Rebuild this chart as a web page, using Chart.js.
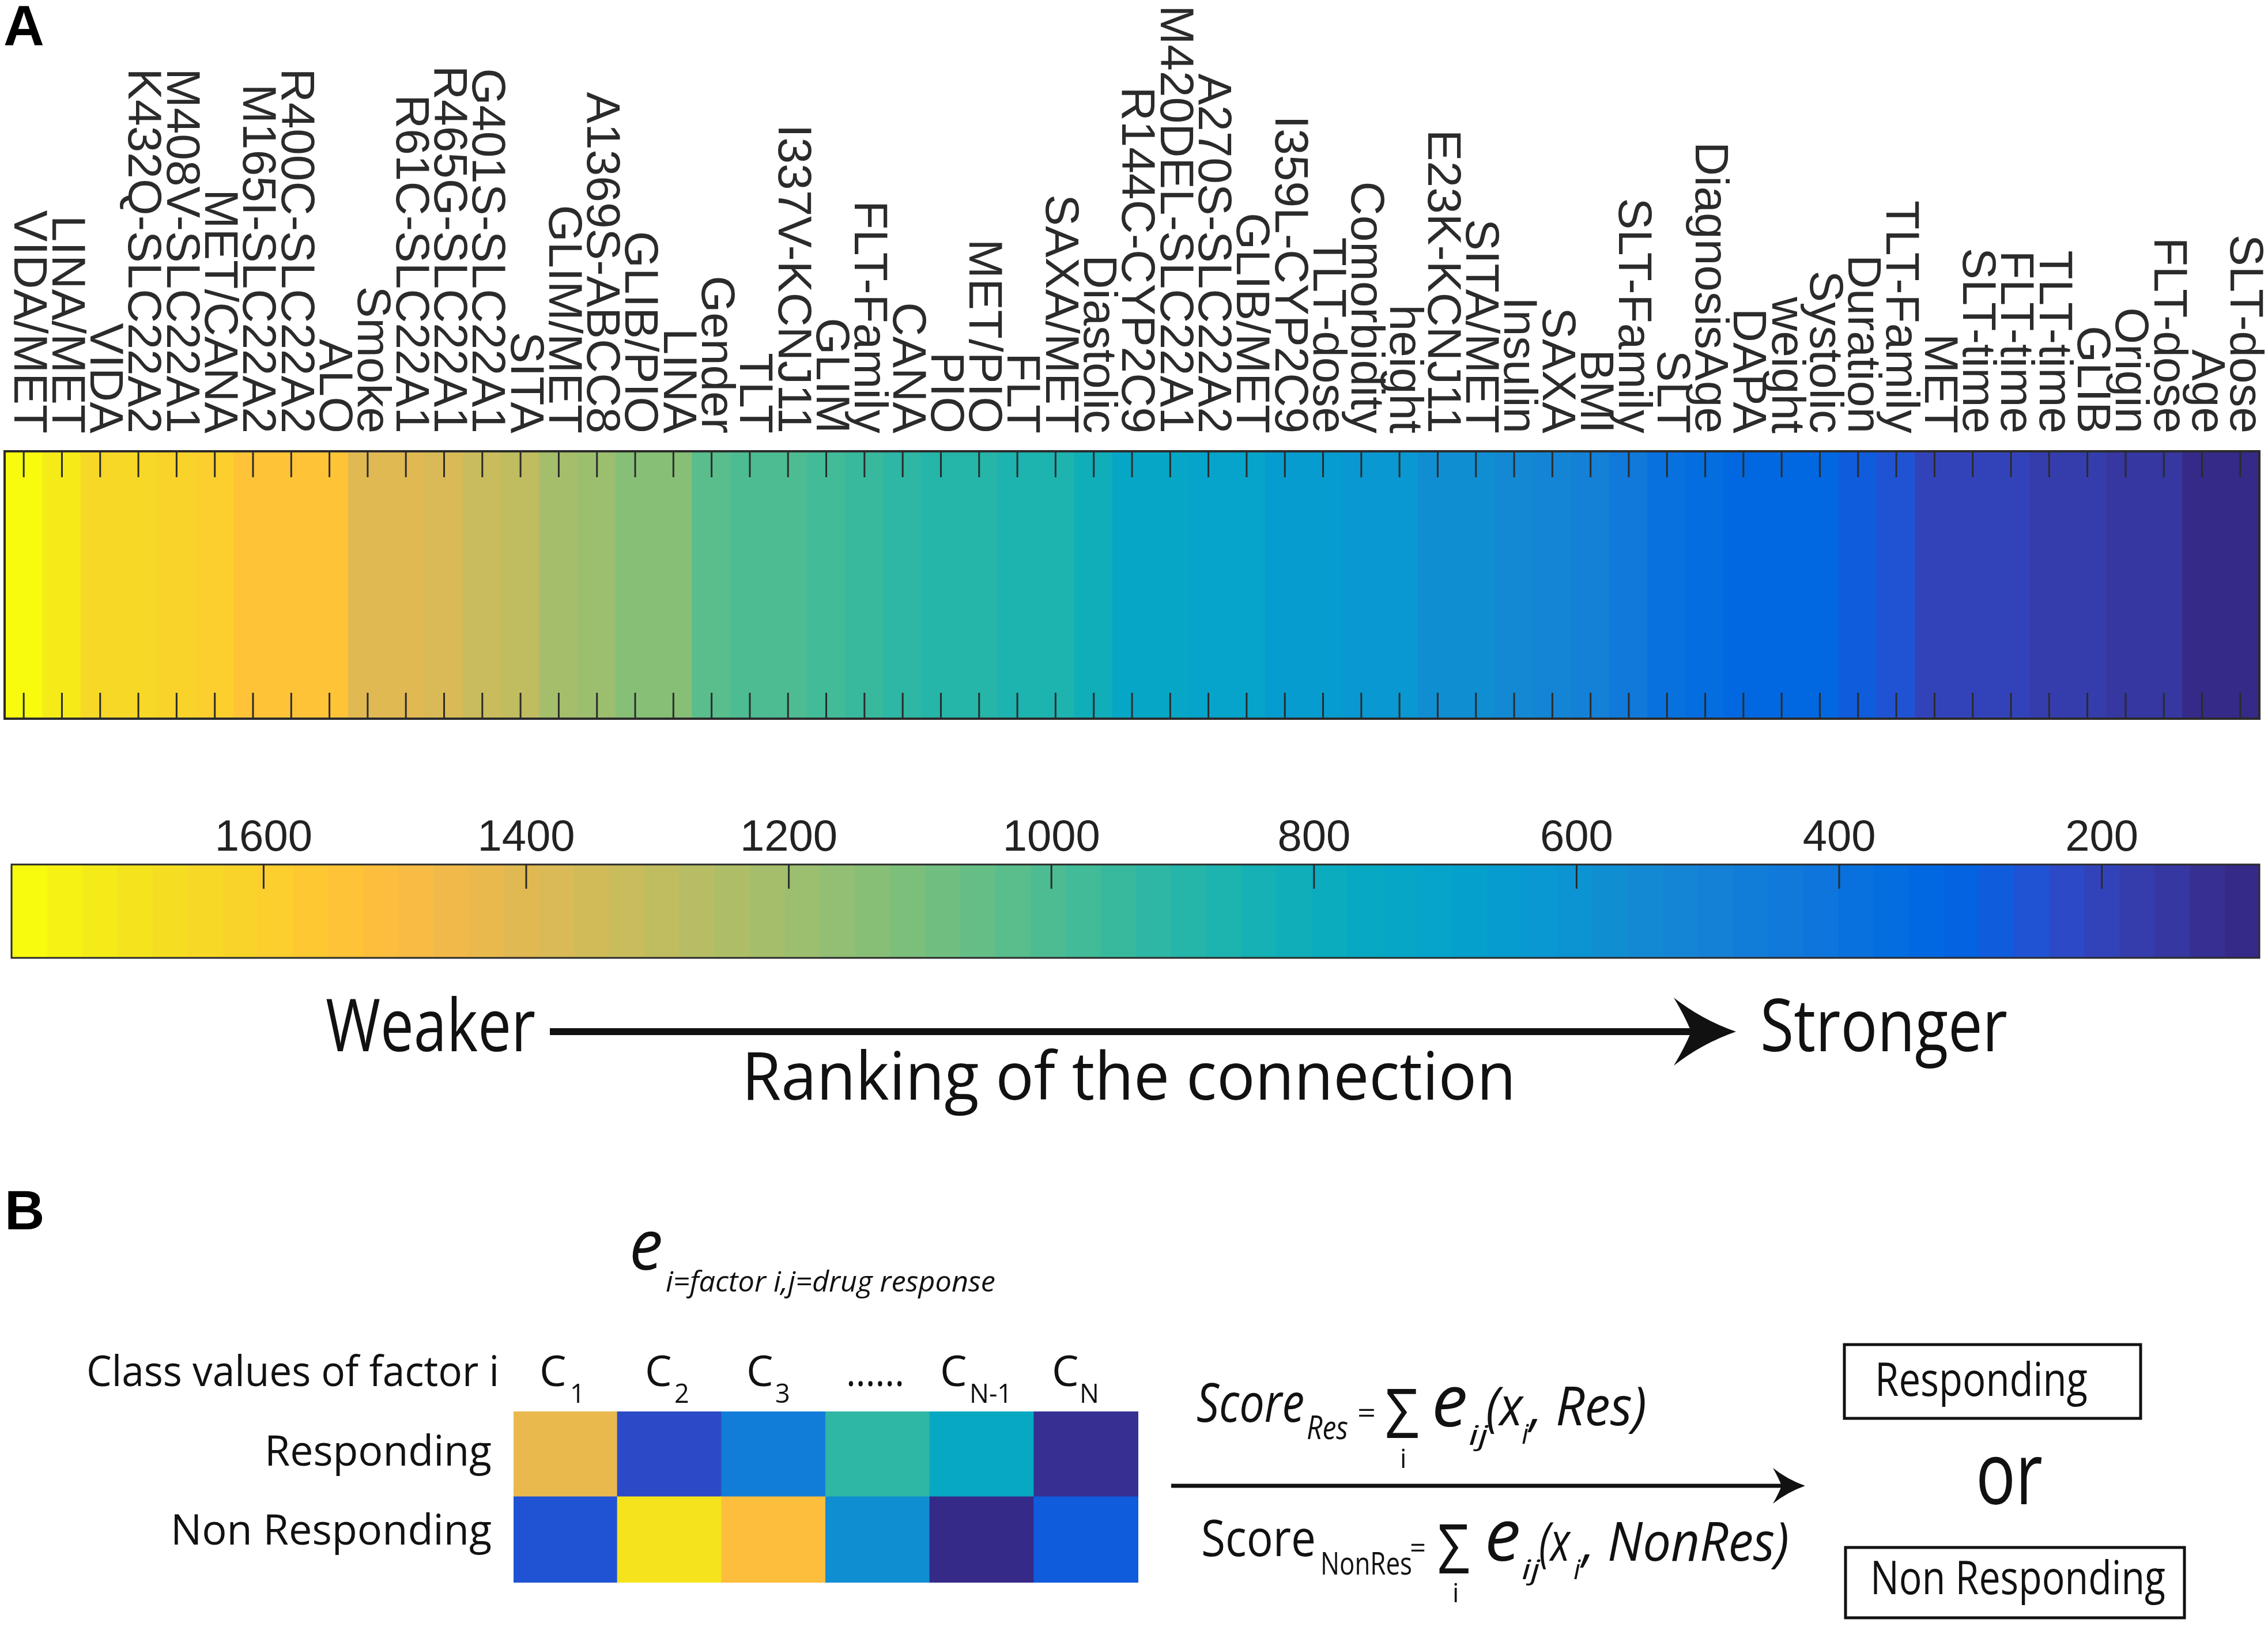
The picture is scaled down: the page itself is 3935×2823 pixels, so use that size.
<!DOCTYPE html>
<html><head><meta charset="utf-8">
<script src="https://cdn.jsdelivr.net/npm/chart.js@4.4.1/dist/chart.umd.min.js"></script>
<style>
html,body{margin:0;padding:0;background:#fff;}
#wrap{position:relative;width:3935px;height:2823px;overflow:hidden;background:#fff;}
canvas{position:absolute;left:0;top:0;}
</style></head><body>
<div id="wrap">
<canvas id="bar" width="3935" height="2823"></canvas>
<canvas id="cbar" width="3935" height="2823"></canvas>
<canvas id="mat" width="3935" height="2823"></canvas>
</div>
<script>
// ---------------- DATA ----------------
const factors = ['VIDA/MET','LINA/MET','VIDA','K432Q-SLC22A2','M408V-SLC22A1','MET/CANA','M165I-SLC22A2','R400C-SLC22A2','ALO','Smoke',
 'R61C-SLC22A1','R465G-SLC22A1','G401S-SLC22A1','SITA','GLIM/MET','A1369S-ABCC8','GLIB/PIO','LINA','Gender','TLT',
 'I337V-KCNJ11','GLIM','FLT-Family','CANA','PIO','MET/PIO','FLT','SAXA/MET','Diastolic','R144C-CYP2C9',
 'M420DEL-SLC22A1','A270S-SLC22A2','GLIB/MET','I359L-CYP2C9','TLT-dose','Comorbidity','height','E23K-KCNJ11','SITA/MET','Insulin',
 'SAXA','BMI','SLT-Family','SLT','DiagnosisAge','DAPA','weight','Systolic','Duration','TLT-Family',
 'MET','SLT-time','FLT-time','TLT-time','GLIB','Origin','FLT-dose','Age','SLT-dose'];
const rankValues = [1776,1722,1642,1642,1615,1588,1535,1535,1535,1401,
 1401,1374,1321,1294,1214,1187,1133,1133,1026,999,
 999,973,946,919,892,892,865,865,812,731,
 731,705,705,651,651,624,624,571,571,544,
 517,490,437,383,356,330,330,330,276,250,
 196,196,196,169,169,143,143,89,89];
const colorbarTicks = [1600,1400,1200,1000,800,600,400,200];
const colorbarRange = [80, 1792];
const classLabels = ['C1','C2','C3','......','CN-1','CN'];
const eResponding    = [0.79, 0.08, 0.22, 0.49, 0.40, 0.02];
const eNonResponding = [0.10, 0.95, 0.84, 0.29, 0.00, 0.11];

// ---------------- COLORMAP (parula, 64) ----------------
const PARULA = [
[0.2081,0.1663,0.5292],[0.2116,0.1898,0.5777],[0.2123,0.2138,0.6270],[0.2081,0.2386,0.6771],
[0.1959,0.2645,0.7279],[0.1707,0.2919,0.7792],[0.1253,0.3242,0.8303],[0.0591,0.3598,0.8683],
[0.0117,0.3875,0.8820],[0.0060,0.4086,0.8828],[0.0165,0.4266,0.8786],[0.0329,0.4430,0.8720],
[0.0498,0.4586,0.8641],[0.0629,0.4737,0.8554],[0.0723,0.4887,0.8467],[0.0779,0.5040,0.8384],
[0.0793,0.5200,0.8312],[0.0749,0.5375,0.8263],[0.0641,0.5570,0.8240],[0.0488,0.5772,0.8228],
[0.0343,0.5966,0.8199],[0.0265,0.6137,0.8135],[0.0239,0.6287,0.8038],[0.0231,0.6418,0.7913],
[0.0228,0.6535,0.7768],[0.0267,0.6642,0.7607],[0.0384,0.6743,0.7436],[0.0590,0.6838,0.7254],
[0.0843,0.6928,0.7062],[0.1133,0.7015,0.6859],[0.1453,0.7098,0.6646],[0.1801,0.7177,0.6424],
[0.2178,0.7250,0.6193],[0.2586,0.7317,0.5954],[0.3022,0.7376,0.5712],[0.3482,0.7424,0.5473],
[0.3953,0.7459,0.5244],[0.4420,0.7481,0.5033],[0.4871,0.7491,0.4840],[0.5300,0.7491,0.4661],
[0.5709,0.7485,0.4494],[0.6099,0.7473,0.4337],[0.6473,0.7456,0.4188],[0.6834,0.7435,0.4044],
[0.7184,0.7411,0.3905],[0.7525,0.7384,0.3768],[0.7858,0.7356,0.3633],[0.8185,0.7327,0.3498],
[0.8507,0.7299,0.3360],[0.8824,0.7274,0.3217],[0.9139,0.7258,0.3063],[0.9450,0.7261,0.2886],
[0.9739,0.7314,0.2666],[0.9938,0.7455,0.2403],[0.9990,0.7653,0.2164],[0.9955,0.7861,0.1967],
[0.9880,0.8066,0.1794],[0.9789,0.8271,0.1633],[0.9697,0.8481,0.1475],[0.9626,0.8705,0.1309],
[0.9589,0.8949,0.1132],[0.9598,0.9218,0.0948],[0.9661,0.9514,0.0755],[0.9763,0.9831,0.0538]];
const rgb = c => `rgb(${Math.round(c[0]*255)},${Math.round(c[1]*255)},${Math.round(c[2]*255)})`;
const N = PARULA.length;
function valueColor(v){
  const t = (v - colorbarRange[0]) / (colorbarRange[1] - colorbarRange[0]);
  return rgb(PARULA[Math.max(0, Math.min(N-1, Math.floor(t*N)))]);
}
function eColor(e){ return rgb(PARULA[Math.max(0, Math.min(N-1, Math.round(e*(N-1))))]); }

const HELV = "'Liberation Sans', Arial, Helvetica, sans-serif";
const MYR = "'Open Sans', 'Noto Sans', sans-serif";
const AXC = '#2b2b2b';
Chart.defaults.font.family = HELV;
const W = 3935, H = 2823;
const common = {
  responsive:false, animation:false, devicePixelRatio:1,
  plugins:{legend:{display:false}, tooltip:{enabled:false}}, events:[]
};

// ---------------- TOP STRIP ----------------
const stripPlugin = {
  id:'strip',
  afterDraw(chart){
    const {ctx, chartArea:a, scales:{x}} = chart;
    ctx.save();
    ctx.strokeStyle = AXC; ctx.lineWidth = 3;
    factors.forEach((f, i) => {
      const px = x.getPixelForValue(i);
      ctx.beginPath();
      ctx.moveTo(px, a.top); ctx.lineTo(px, a.top + 45);
      ctx.moveTo(px, a.bottom); ctx.lineTo(px, a.bottom - 45);
      ctx.stroke();
    });
    ctx.lineWidth = 4;
    ctx.strokeRect(a.left, a.top, a.right - a.left, a.bottom - a.top);
    ctx.fillStyle = AXC;
    ctx.font = `82px ${HELV}`;
    ctx.textAlign = 'right'; ctx.textBaseline = 'middle';
    factors.forEach((f, i) => {
      const px = x.getPixelForValue(i);
      ctx.save();
      ctx.translate(px + 6, a.top - 31);
      ctx.rotate(Math.PI/2);
      ctx.fillText(f, 0, 0);
      ctx.restore();
    });
    ctx.restore();
  }
};
new Chart(document.getElementById('bar'), {
  type:'bar',
  data:{ labels:factors, datasets:[{
    data: rankValues.map(() => [0, 1]),
    backgroundColor: rankValues.map(valueColor),
    borderWidth:0, barPercentage:1, categoryPercentage:1, inflateAmount:1
  }]},
  options:{ ...common,
    layout:{padding:{left:8, right:W-3920, top:783, bottom:H-1247}},
    scales:{ x:{type:'category', display:false}, y:{display:false, min:0, max:1} }
  },
  plugins:[stripPlugin]
});

// ---------------- COLORBAR ----------------
const bands = PARULA.map((c, i) => {
  const step = (colorbarRange[1] - colorbarRange[0]) / N;
  return {lo: colorbarRange[0] + i*step, hi: colorbarRange[0] + (i+1)*step, color: rgb(c)};
});
const cbPlugin = {
  id:'cb',
  afterDraw(chart){
    const {ctx, chartArea:a, scales:{x}} = chart;
    ctx.save();
    ctx.strokeStyle = AXC; ctx.lineWidth = 3;
    ctx.strokeRect(a.left, a.top, a.right - a.left, a.bottom - a.top);
    ctx.fillStyle = '#222';
    ctx.font = `76px ${HELV}`;
    ctx.textAlign = 'center'; ctx.textBaseline = 'alphabetic';
    colorbarTicks.forEach(v => {
      const px = x.getPixelForValue(v);
      ctx.beginPath(); ctx.moveTo(px, a.top); ctx.lineTo(px, a.top + 42); ctx.stroke();
      ctx.fillText(String(v), px, a.top - 24);
    });
    ctx.restore();
  }
};
new Chart(document.getElementById('cbar'), {
  type:'bar',
  data:{ labels:['cb'], datasets:[{
    data: bands.map(b => ({y:'cb', x:[b.lo, b.hi]})),
    backgroundColor: bands.map(b => b.color),
    borderWidth:0, barPercentage:1, categoryPercentage:1, inflateAmount:1, grouped:false
  }]},
  options:{ ...common, indexAxis:'y',
    layout:{padding:{left:20, right:W-3920, top:1500, bottom:H-1662}},
    scales:{ x:{type:'linear', reverse:true, min:colorbarRange[0], max:colorbarRange[1], display:false},
             y:{type:'category', display:false} }
  },
  plugins:[cbPlugin]
});

// ---------------- ANNOTATIONS ----------------
function txt(ctx, s, x, base, size, o = {}){
  ctx.save();
  ctx.font = `${o.italic ? 'italic ' : ''}${o.bold ? 'bold ' : ''}${size}px ${o.family || MYR}`;
  ctx.fillStyle = o.color || '#111';
  ctx.textAlign = 'left'; ctx.textBaseline = 'alphabetic';
  const w = ctx.measureText(s).width;
  const tw = o.width || w;
  const sx = tw / w;
  const left = o.align === 'right' ? x - tw : x;
  ctx.translate(left, base);
  ctx.scale(sx, 1);
  ctx.fillText(s, 0, 0);
  ctx.restore();
}
function arrow(ctx, x0, tip, y, lw, hl, hh, notch){
  ctx.save();
  ctx.fillStyle = '#111';
  ctx.fillRect(x0, y - lw/2, (tip - hl + notch + 2) - x0, lw);
  ctx.beginPath();
  ctx.moveTo(tip, y);
  ctx.quadraticCurveTo(tip - hl*0.55, y - hh*0.35, tip - hl, y - hh);
  ctx.quadraticCurveTo(tip - hl + notch*0.7, y - hh*0.4, tip - hl + notch, y);
  ctx.quadraticCurveTo(tip - hl + notch*0.7, y + hh*0.4, tip - hl, y + hh);
  ctx.quadraticCurveTo(tip - hl*0.55, y + hh*0.35, tip, y);
  ctx.closePath(); ctx.fill();
  ctx.restore();
}
const notePlugin = {
  id:'notes',
  afterDraw(chart){
    const ctx = chart.ctx;
    // panel letters
    txt(ctx, 'A', 6, 78, 98, {bold:true, family:HELV, color:'#000'});
    txt(ctx, 'B', 8, 2133, 96, {bold:true, family:HELV, color:'#000'});
    // ranking arrow
    txt(ctx, 'Weaker', 565, 1824, 126, {width:364});
    arrow(ctx, 954, 3012, 1790, 12, 108, 59, 30);
    txt(ctx, 'Stronger', 3054, 1824, 126, {width:429});
    txt(ctx, 'Ranking of the connection', 1287, 1908, 116, {width:1343});
    // e_{i=factor i, j=drug response}
    txt(ctx, 'e', 1092, 2203, 121, {italic:true, width:58});
    txt(ctx, 'i=factor i,j=drug response', 1155, 2241, 50, {italic:true, width:572});
    // class header
    txt(ctx, 'Class values of factor i', 150, 2405, 74, {width:716});
    const cPos = [[936,989],[1119,1170],[1295,1345],null,[1631,1682],[1825,1873]];
    classLabels.forEach((lab, i) => {
      if (!cPos[i]) { txt(ctx, lab, 1468, 2405, 74, {width:101}); return; }
      txt(ctx, 'C', cPos[i][0], 2405, 74);
      txt(ctx, lab.slice(1), cPos[i][1], 2434, 45);
    });
    txt(ctx, 'Responding', 853, 2543, 74, {align:'right', width:394});
    txt(ctx, 'Non Responding', 853, 2680, 74, {align:'right', width:557});
    // formula 1
    txt(ctx, 'Score', 2076, 2467, 94, {italic:true, width:187});
    txt(ctx, 'Res', 2267, 2497, 56, {italic:true, width:72});
    txt(ctx, '=', 2355, 2469, 50, {width:32});
    txt(ctx, 'Σ', 2403, 2495, 119, {width:59});
    txt(ctx, 'i', 2429, 2547, 45);
    txt(ctx, 'e', 2484, 2475, 125, {italic:true});
    txt(ctx, 'ij', 2548, 2507, 48, {italic:true, width:34});
    txt(ctx, '(x', 2578, 2473, 94, {italic:true, width:64});
    txt(ctx, 'i', 2640, 2505, 48, {italic:true});
    txt(ctx, ', Res)', 2654, 2473, 94, {italic:true, width:203});
    // arrow B
    arrow(ctx, 2032, 3132, 2578, 7, 56, 31, 15);
    // formula 2
    txt(ctx, 'Score', 2084, 2700, 88, {width:199});
    txt(ctx, 'NonRes', 2291, 2732, 55, {width:159});
    txt(ctx, '=', 2446, 2703, 50, {width:28});
    txt(ctx, 'Σ', 2494, 2730, 119, {width:56});
    txt(ctx, 'i', 2520, 2780, 45);
    txt(ctx, 'e', 2576, 2708, 125, {italic:true});
    txt(ctx, 'ij', 2640, 2740, 48, {italic:true, width:32});
    txt(ctx, '(x', 2670, 2708, 94, {italic:true, width:54});
    txt(ctx, 'i', 2730, 2740, 48, {italic:true});
    txt(ctx, ', NonRes)', 2745, 2708, 94, {italic:true, width:359});
    // outcome boxes
    ctx.save();
    ctx.strokeStyle = '#111'; ctx.lineWidth = 5;
    ctx.strokeRect(3200, 2333, 514, 128);
    ctx.strokeRect(3202, 2685, 588, 122);
    ctx.restore();
    txt(ctx, 'Responding', 3253, 2422, 81, {width:369});
    txt(ctx, 'or', 3428, 2610, 150, {width:116});
    txt(ctx, 'Non Responding', 3245, 2766, 81, {width:512});
  }
};

// ---------------- MATRIX (section B) ----------------
new Chart(document.getElementById('mat'), {
  type:'bar',
  data:{ labels:classLabels, datasets:[
    {label:'Non Responding', data: eNonResponding.map(() => [0, 1]), backgroundColor: eNonResponding.map(eColor),
     borderWidth:0, barPercentage:1, categoryPercentage:1, inflateAmount:1, grouped:false},
    {label:'Responding', data: eResponding.map(() => [1, 2]), backgroundColor: eResponding.map(eColor),
     borderWidth:0, barPercentage:1, categoryPercentage:1, inflateAmount:1, grouped:false}
  ]},
  options:{ ...common,
    layout:{padding:{left:891, right:W-1975, top:2449, bottom:H-2746}},
    scales:{ x:{type:'category', display:false}, y:{display:false, min:0, max:2} }
  },
  plugins:[notePlugin]
});
</script>
</body></html>
